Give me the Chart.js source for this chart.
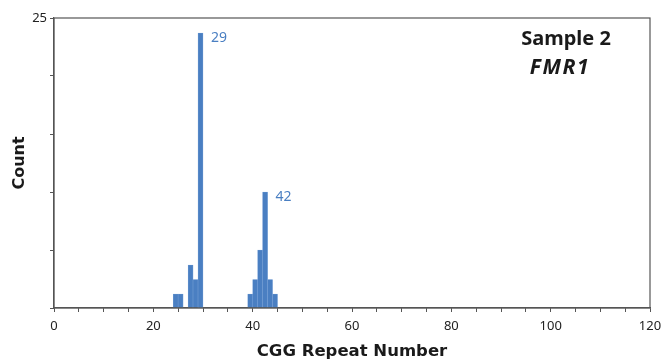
<!DOCTYPE html>
<html>
<head>
<meta charset="utf-8">
<script src="https://cdn.jsdelivr.net/npm/chart.js@4/dist/chart.umd.min.js"></script>
<style>
html,body{margin:0;padding:0;background:#fff;}
#wrap{width:663px;height:362px;position:relative;}
</style>
</head>
<body>
<div id="wrap"><canvas id="c" width="663" height="362"></canvas></div>
<script>
// Repeat numbers (bins) and counts
const repeats = [24, 25, 27, 28, 29, 39, 40, 41, 42, 43, 44];
const counts  = [1.2, 1.2, 3.7, 2.45, 23.7, 1.2, 2.45, 5, 10, 2.45, 1.2];
const peakLabels = [29, 42];
const xTickValues = [0, 5, 10, 15, 20, 25, 30, 35, 40, 45, 50, 55, 60, 65, 70, 75, 80, 85, 90, 95, 100, 105, 110, 115, 120];
const xTicksLabeled = [0, 20, 40, 60, 80, 100, 120];
const yTickValues = [0, 5, 10, 15, 20, 25];
const yTicksLabeled = [25];
const titleLines = ["Sample 2", "FMR1"];
const xTitle = "CGG Repeat Number";
const yTitle = "Count";

const FONT = "'Noto Sans', 'Open Sans', sans-serif";
const TFONT = "'DejaVu Sans', sans-serif";
const BLUE = '#4a7fc2';

const points = repeats.map((r, i) => ({x: r + 0.5, y: counts[i]}));

const overlay = {
  id: 'overlay',
  afterDatasetsDraw(chart) {
    const {ctx, chartArea, scales} = chart;
    ctx.save();
    // frame
    ctx.strokeStyle = '#555';
    ctx.lineWidth = 1.2;
    ctx.strokeRect(chartArea.left, chartArea.top, chartArea.right - chartArea.left, chartArea.bottom - chartArea.top);
    // peak labels
    ctx.fillStyle = BLUE;
    ctx.font = "14px " + FONT;
    ctx.textAlign = 'left';
    ctx.textBaseline = 'middle';
    peakLabels.forEach(p => {
      const i = repeats.indexOf(p);
      const xp = scales.x.getPixelForValue(p + 1);
      const yp = scales.y.getPixelForValue(counts[i]);
      ctx.fillText(String(p), xp + 8, yp + 5);
    });
    // title box
    ctx.fillStyle = '#1a1a1a';
    ctx.textAlign = 'center';
    ctx.font = "bold 20px " + FONT;
    ctx.fillText(titleLines[0], 566, 39);
    ctx.font = "italic bold 21px " + FONT;
    ctx.letterSpacing = '1.5px';
    ctx.fillText(titleLines[1], 560, 68);
    ctx.restore();
  }
};

new Chart(document.getElementById('c'), {
  type: 'bar',
  data: {
    datasets: [{
      data: points,
      backgroundColor: BLUE,
      borderColor: '#6f9bd3',
      borderWidth: 0.6,
      barPercentage: 1,
      categoryPercentage: 1
    }]
  },
  options: {
    responsive: false,
    animation: false,
    layout: {padding: {left: 0, right: 13, top: 18, bottom: 0}},
    plugins: {legend: {display: false}, tooltip: {enabled: false}},
    scales: {
      x: {
        type: 'linear',
        min: 0, max: 120,
        offset: false,
        afterBuildTicks: s => { s.ticks = xTickValues.map(v => ({value: v})); },
        grid: {display: true, offset: false, drawOnChartArea: false, drawTicks: true, tickLength: 4, color: '#555', tickColor: '#555'},
        border: {display: true, color: '#555', width: 1.2},
        ticks: {
          autoSkip: false, maxRotation: 0,
          color: '#222', font: {size: 13, family: FONT}, padding: 6,
          callback: v => xTicksLabeled.includes(v) ? String(v) : ''
        },
        title: {display: true, text: xTitle, color: '#1a1a1a', font: {size: 16.5, weight: 'bold', family: TFONT}, padding: {top: 5, bottom: 0}},
        afterFit: s => { s.height = 54; s.paddingRight = 0; s.paddingLeft = 0; }
      },
      y: {
        min: 0, max: 25,
        afterBuildTicks: s => { s.ticks = yTickValues.map(v => ({value: v})); },
        grid: {display: true, offset: false, drawOnChartArea: false, drawTicks: true, tickLength: 4, color: '#555', tickColor: '#555'},
        border: {display: true, color: '#555', width: 1.2},
        ticks: {
          autoSkip: false,
          color: '#222', font: {size: 13, family: FONT}, padding: 3,
          callback: v => yTicksLabeled.includes(v) ? String(v) : ''
        },
        title: {display: true, text: yTitle, color: '#1a1a1a', font: {size: 16, weight: 'bold', family: TFONT}, padding: {top: 10, bottom: 0}},
        afterFit: s => { s.width = 54; s.paddingTop = 0; s.paddingBottom = 0; }
      }
    }
  },
  plugins: [overlay]
});
</script>
</body>
</html>
